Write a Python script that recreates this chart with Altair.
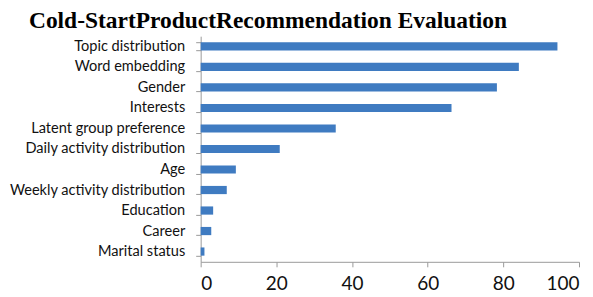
import altair as alt
import pandas as pd

categories = ["Topic distribution", "Word embedding", "Gender", "Interests",
              "Latent group preference", "Daily activity distribution", "Age",
              "Weekly activity distribution", "Education", "Career", "Marital status"]
values = [94.3, 84.1, 78.3, 66.3, 35.7, 20.9, 9.3, 6.9, 3.3, 2.8, 1.0]
x_ticks = [0, 20, 40, 60, 80, 100]

df = pd.DataFrame({"feature": categories, "value": values})

chart = alt.Chart(df).mark_bar(color="#3f7bc1").encode(
    x=alt.X("value:Q", scale=alt.Scale(domain=[0, 100], nice=False),
            axis=alt.Axis(values=x_ticks, title=None, grid=False, domainColor="#9a9a9a",
                          tickColor="#9a9a9a", tickSize=5, labelFontSize=19,
                          labelFont="Lato", labelColor="#111", labelPadding=8)),
    y=alt.Y("feature:N", sort=categories,
            scale=alt.Scale(paddingInner=0.6, paddingOuter=0.3),
            axis=alt.Axis(title=None, domainColor="#9a9a9a", tickColor="#9a9a9a",
                          tickSize=5, tickBand="extent", labelFontSize=14.6,
                          labelFont="Lato", labelColor="#111", labelPadding=11,
                          minExtent=190, maxExtent=190)),
).properties(
    width=379, height=226,
    title=alt.TitleParams("Cold-StartProductRecommendation Evaluation",
                          font="Liberation Serif", fontSize=23.5, fontWeight="bold",
                          color="#000", anchor="start", frame="group", dx=-172, offset=-4),
    padding={"left": 0, "top": 0, "right": 5, "bottom": 0},
).configure_view(stroke=None)

chart.save("out.html", embed_options={"renderer": "svg", "actions": False})
